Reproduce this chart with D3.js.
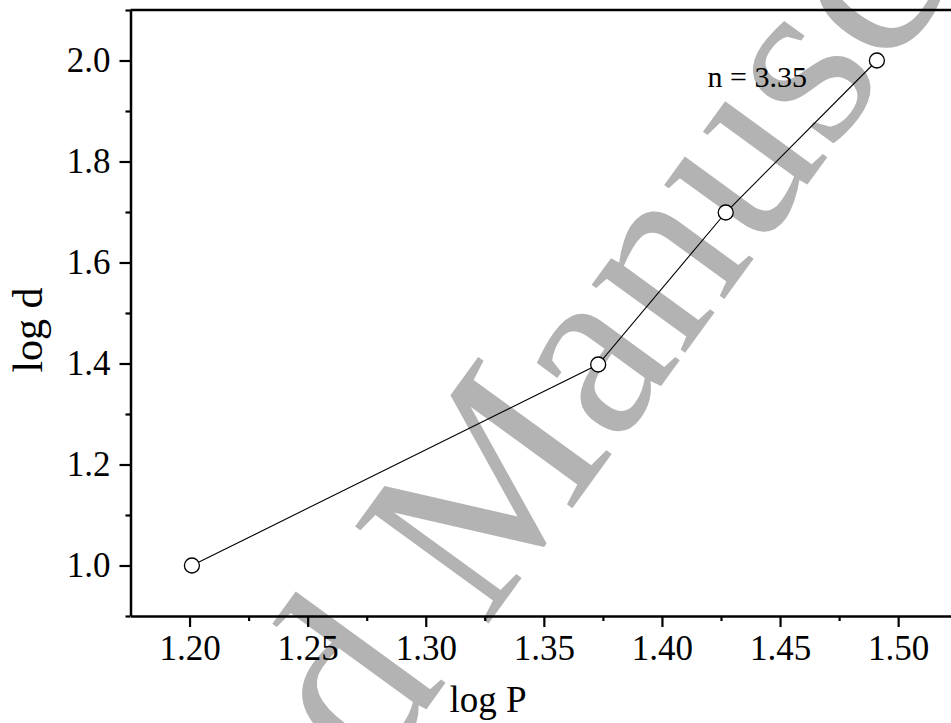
<!DOCTYPE html>
<html>
<head>
<meta charset="utf-8">
<script src="https://cdn.jsdelivr.net/npm/d3@7"></script>
<style>
  html, body { margin: 0; padding: 0; background: #fff; }
  svg { display: block; }
  text { font-family: "Liberation Serif", "Times New Roman", serif; }
</style>
</head>
<body>
<svg id="chart" width="951" height="723"></svg>
<script>
// log P vs log d measurements
const logP = [1.201, 1.373, 1.427, 1.491];
const logD = [1.0, 1.398, 1.699, 2.0];

const xTicks = [1.20, 1.25, 1.30, 1.35, 1.40, 1.45, 1.50];
const xMinor = [1.225, 1.275, 1.325, 1.375, 1.425, 1.475];
const yTicks = [1.0, 1.2, 1.4, 1.6, 1.8, 2.0];
const yMinor = [0.9, 1.1, 1.3, 1.5, 1.7, 1.9, 2.1];

const slopeLabel = "n = 3.35";
const xTitle = "log P";
const yTitle = "log d";
const stampText = "Accepted Manuscript";

const svg = d3.select("#chart");

const x = d3.scaleLinear().domain([1.175, 1.525]).range([130.5, 957.2]);
const y = d3.scaleLinear().domain([0.9, 2.1]).range([616, 10]);

// background stamp
svg.append("text")
  .attr("transform", "translate(-112,1450) rotate(-54)")
  .attr("font-size", 252)
  .attr("fill", "#b3b3b3")
  .text(stampText);

// x axis (bottom)
const xAxis = svg.append("g").attr("transform", `translate(0,${y(0.9)})`);
xAxis.call(d3.axisBottom(x).tickValues(xTicks).tickFormat(d3.format(".2f"))
  .tickSize(11).tickSizeOuter(0).tickPadding(8));
xAxis.append("g").call(d3.axisBottom(x).tickValues(xMinor).tickFormat("").tickSize(5).tickSizeOuter(0))
  .select(".domain").remove();

// y axis (left)
const yAxis = svg.append("g").attr("transform", `translate(${x(1.175)},0)`);
yAxis.call(d3.axisLeft(y).tickValues(yTicks).tickFormat(d3.format(".1f"))
  .tickSize(11).tickSizeOuter(0).tickPadding(9));
yAxis.append("g").call(d3.axisLeft(y).tickValues(yMinor).tickFormat("").tickSize(5).tickSizeOuter(0))
  .select(".domain").remove();

// top frame line
svg.append("line")
  .attr("x1", x(1.175)).attr("x2", x(1.525))
  .attr("y1", y(2.1)).attr("y2", y(2.1))
  .attr("stroke", "#000").attr("stroke-width", 2.5);

svg.selectAll(".domain").attr("stroke", "#000").attr("stroke-width", 2.5);
svg.selectAll(".tick line").attr("stroke", "#000").attr("stroke-width", 2.2);
svg.selectAll(".tick text")
  .attr("font-family", "Liberation Serif, Times New Roman, serif")
  .attr("font-size", 35).attr("fill", "#000");

// axis titles
svg.append("text")
  .attr("x", 488).attr("y", 712)
  .attr("text-anchor", "middle")
  .attr("font-size", 37)
  .text(xTitle);

svg.append("text")
  .attr("transform", "translate(42,330) rotate(-90)")
  .attr("text-anchor", "middle")
  .attr("font-size", 42)
  .text(yTitle);

// data line and markers
const pts = logP.map((p, i) => [p, logD[i]]);
svg.append("path")
  .datum(pts)
  .attr("fill", "none")
  .attr("stroke", "#000")
  .attr("stroke-width", 1.1)
  .attr("d", d3.line().x(d => x(d[0])).y(d => y(d[1])));

svg.selectAll("circle.pt")
  .data(pts)
  .join("circle")
  .attr("class", "pt")
  .attr("cx", d => x(d[0]))
  .attr("cy", d => y(d[1]))
  .attr("r", 7.5)
  .attr("fill", "#fff")
  .attr("stroke", "#000")
  .attr("stroke-width", 1.3);

svg.append("text")
  .attr("x", 707.5).attr("y", 87)
  .attr("font-size", 30)
  .text(slopeLabel);
</script>
</body>
</html>
